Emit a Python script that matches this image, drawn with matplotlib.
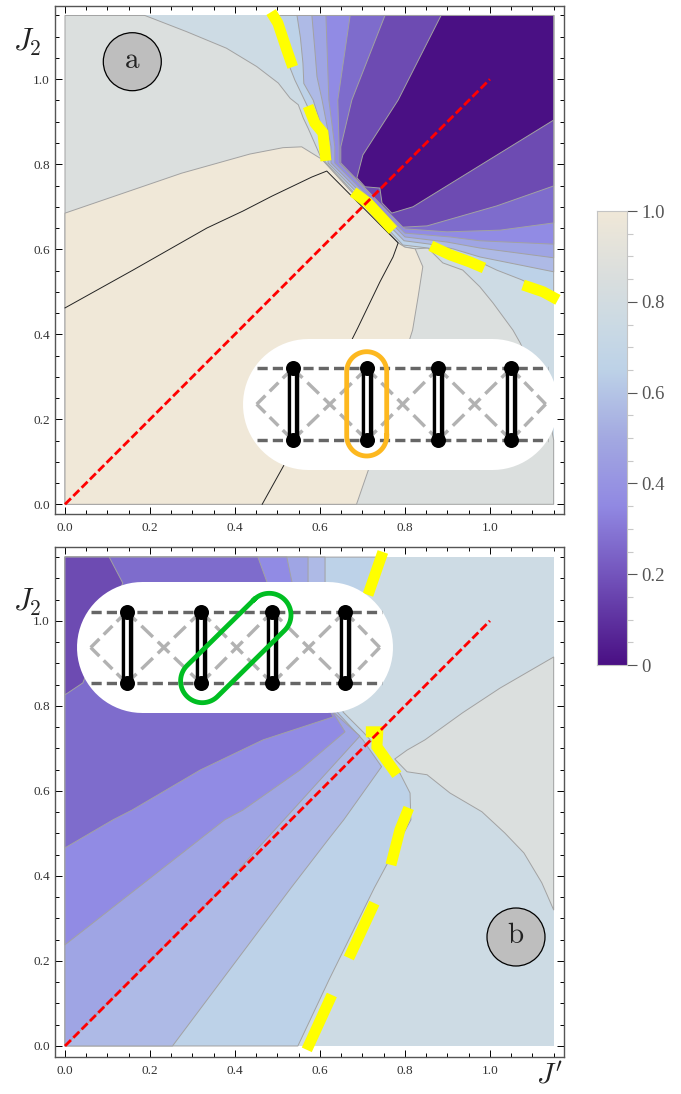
"""
Phase diagrams in the (J', J2) plane, two panels and a shared colour bar
"""

#Import libraries
import numpy as np
import matplotlib
matplotlib.use("Agg")
import matplotlib.pyplot as plt
from matplotlib.colors import LinearSegmentedColormap

plt.rcParams['font.family'] = ['Liberation Serif', 'DejaVu Serif']
plt.rcParams['mathtext.fontset'] = 'stix'

#=========================================================================================================
#Data: contour lines, as (J', J2)
#=========================================================================================================
#Colours of the bands, from the lowest value to the highest
band_dark = '#4A1084'
band_1 = '#6D4BB2'
band_2 = '#7E6CCC'
band_3 = '#918BE4'
band_4 = '#9FA5E4'
band_5 = '#AEBAE6'
band_6 = '#BDD2E8'
band_7 = '#CDDBE4'
band_8 = '#DBDFDE'
band_9 = '#F0E8D8'

#Panel a
a_level_08 = [(.188, 1.15), (.286, 1.112), (.380, 1.073), (.451, 1.030), (.502, .991), (.530, .955), (.549, .940),
              (.561, .908), (.572, .885), (.604, .812), (.784, .615), (.800, .605), (.824, .601), (.854, .603),
              (.889, .568), (.936, .551), (.976, .512), (1.007, .474), (1.054, .410), (1.071, .380), (1.118, .281),
              (1.141, .198), (1.15, .151), (1.15, 0), (0, 0), (0, 1.15)]
a_level_09 = [(0, .685), (.2745, .779), (.435, .824), (.513, .839), (.557, .841), (.604, .812), (.784, .615),
              (.800, .605), (.824, .601), (.842, .559), (.831, .488), (.818, .410), (.714, .081), (.686, 0), (0, 0)]
a_black_line = [(0, .462), (.160, .551), (.334, .650), (.419, .690), (.487, .725), (.581, .770), (.616, .784),
                (.784, .615), (.772, .582), (.741, .523), (.689, .415), (.675, .387), (.513, .088), (.464, 0)]
a_level_07 = [(.487, 1.15), (.513, 1.069), (.541, .998), (.567, .944), (.591, .892), (.607, .846), (.612, .806),
              (.795, .610), (.854, .603), (.911, .591), (.976, .570), (1.016, .551), (1.075, .528), (1.15, .490)]
a_level_06 = [(.546, 1.15), (.554, 1.098), (.560, 1.037), (.562, .990), (.584, .951), (.619, .841), (.619, .803),
              (.798, .620), (.859, .612), (.913, .601), (.976, .582), (1.15, .547)]
a_level_05 = [(.581, 1.15), (.588, 1.069), (.593, 1.006), (.605, .951), (.626, .841), (.626, .803), (.800, .629),
              (.899, .617), (.976, .603), (1.15, .580)]
a_level_04 = [(.614, 1.15), (.621, .951), (.635, .841), (.635, .803), (.800, .638), (.906, .629), (.976, .620),
              (1.15, .612)]
a_level_03 = [(.671, 1.15), (.642, .951), (.645, .841), (.645, .803), (.800, .648), (.899, .641), (1.024, .645),
              (1.15, .662)]
a_level_02 = [(.753, 1.15), (.675, .951), (.649, .841), (.649, .803), (.795, .652), (.852, .655), (1.016, .702),
              (1.15, .749)]
a_level_01 = [(.885, 1.15), (.784, .951), (.701, .822), (.687, .768), (.706, .747), (.741, .744), (.746, .709),
              (.769, .685), (.819, .700), (1.15, .904)]
a_yellow = [[(.485, 1.158), (.501, 1.132), (.522, 1.069), (.536, 1.029)],
            [(.572, .937), (.588, .897), (.607, .874), (.614, .808)],
            [(.678, .735), (.713, .709), (.772, .645)],
            [(.861, .608), (.906, .587), (.953, .570), (.986, .556)],
            [(1.078, .516), (1.125, .500), (1.160, .481)]]

#Panel b
b_level_08 = [(1.15, .915), (1.024, .842), (.936, .784), (.847, .720), (.805, .696), (.776, .675), (.805, .645),
              (.852, .638), (.906, .595), (.981, .551), (1.035, .501), (1.080, .454), (1.122, .384), (1.15, .320)]
b_level_07 = [(.548, 0), (.621, .155), (.728, .372), (.814, .532), (.812, .595), (.788, .642), (.725, .713),
              (.701, .739), (.654, .786), (.706, 1.066), (.736, 1.15), (0, 1.15), (0, 0)]
b_level_06 = [(.253, 0), (.532, .372), (.619, .485), (.656, .532), (.745, .657), (.701, .720), (.640, .786),
              (.612, 1.092), (.612, 1.15), (0, 1.15), (0, 0)]
b_level_05 = [(0, 0), (.35, .35), (.694, .729), (.631, .786), (.572, 1.092), (.572, 1.15), (0, 1.15)]
b_level_04 = [(0, .238), (.376, .532), (.419, .555), (.553, .649), (.659, .739), (.631, .784), (.534, 1.092),
              (.522, 1.15), (0, 1.15)]
b_level_03 = [(0, .466), (.113, .532), (.158, .555), (.318, .649), (.466, .720), (.631, .774), (.475, 1.092),
              (.454, 1.15), (0, 1.15)]
b_level_02 = [(0, .826), (.042, .854), (.136, 1.089), (.104, 1.15), (0, 1.15)]
b_yellow = [[(.748, 1.162), (.713, 1.061)],
            [(.708, .739), (.736, .739), (.734, .704), (.781, .638)],
            [(.809, .560), (.788, .508), (.767, .426)],
            [(.728, .336), (.668, .207)],
            [(.628, .120), (.569, -.009)]]

#Red line J2 = J'
diag_x = [0, 1]
diag_y = [0, 1]

#Ticks and colour bar
major_ticks = [0.0, 0.2, 0.4, 0.6, 0.8, 1.0]
minor_ticks = [0.05, 0.1, 0.15, 0.25, 0.3, 0.35, 0.45, 0.5, 0.55, 0.65, 0.7, 0.75, 0.85, 0.9, 0.95, 1.05, 1.1, 1.15]
bar_labels = ['0', '0.2', '0.4', '0.6', '0.8', '1.0']
bar_positions = [0, .2, .35, .5, .65, .75, .85, 1]
bar_colours = [band_dark, '#7455BD', '#9189E3', '#A3A9E1', '#BDD2E8', '#CBDAE4', '#D9DEDE', band_9]

#=========================================================================================================
#Helpers
#=========================================================================================================
W, H = 681, 1094
fig = plt.figure(figsize=(W / 100, H / 100), dpi=100)


def px(v):
    return v * 0.72


def axes_box(left, right, top, bottom):
    return fig.add_axes([left / W, 1 - bottom / H, (right - left) / W, (bottom - top) / H])


def fill_level(ax, pts, colour):
    xs, ys = zip(*pts)
    ax.fill(xs, ys, facecolor=colour, edgecolor='#A2A2A2', linewidth=0.7, joinstyle='round', zorder=2)


def style_axes(ax, ylim):
    ax.set_xlim(-0.0228, 1.175)
    ax.set_ylim(*ylim)
    ax.set_xticks(major_ticks)
    ax.set_yticks(major_ticks)
    ax.set_xticks(minor_ticks, minor=True)
    ax.set_yticks(minor_ticks, minor=True)
    ax.set_xticklabels(['%.1f' % t for t in major_ticks])
    ax.set_yticklabels(['%.1f' % t for t in major_ticks])
    ax.tick_params(which='both', direction='in', top=True, right=True, width=0.7, color='black',
                   labelsize=9.5, labelcolor='#333333')
    ax.tick_params(which='major', length=px(7))
    ax.tick_params(which='minor', length=px(4))
    ax.tick_params(axis='x', pad=6)
    ax.tick_params(axis='y', pad=4)
    for s in ax.spines.values():
        s.set_color('#555555')
        s.set_linewidth(1.0)


def draw_guides(ax, yellow):
    for seg in yellow:
        xs, ys = zip(*seg)
        ax.plot(xs, ys, color='#FFFF00', lw=px(11), solid_capstyle='butt', solid_joinstyle='miter',
                clip_on=False, zorder=5)
    ax.plot(diag_x, diag_y, color='#FF0000', lw=px(2.8), dashes=(3.0, 1.2), zorder=6)


def stadium(x0, y0, x1, y1, r):
    #Closed outline of a rounded bar around the segment (x0, y0)-(x1, y1), in pixels
    a = np.arctan2(y1 - y0, x1 - x0)
    t1 = np.linspace(a - np.pi / 2, a + np.pi / 2, 40)
    t0 = np.linspace(a + np.pi / 2, a + 3 * np.pi / 2, 40)
    xs = np.r_[x1 + r * np.cos(t1), x0 + r * np.cos(t0), x1 + r * np.cos(t1[0])]
    ys = np.r_[y1 + r * np.sin(t1), y0 + r * np.sin(t0), y1 + r * np.sin(t1[0])]
    return xs, ys


def draw_ladder(ov, dx, dy):
    rungs = np.array([126.7, 201, 272.3, 345]) + dx
    top, bot = 611.7 + dy, 683.3 + dy
    mid = (top + bot) / 2
    left, right = 90.7 + dx, 381.7 + dx
    #Dash phase set so that a dash sits across the middle of each X
    cross = dict(color='#B2B2B2', lw=px(3.4), linestyle=(0.7, (4.7, 2.0)), zorder=11)
    ends = dict(color='#B2B2B2', lw=px(3.4), linestyle=(0, (3.6, 1.8)), zorder=11)
    ov.plot([left, rungs[0]], [mid, top], **ends)
    ov.plot([left, rungs[0]], [mid, bot], **ends)
    ov.plot([right - 2, rungs[3]], [mid, top], **ends)
    ov.plot([right - 2, rungs[3]], [mid, bot], **ends)
    for i in range(3):
        ov.plot([rungs[i], rungs[i + 1]], [top, bot], **cross)
        ov.plot([rungs[i], rungs[i + 1]], [bot, top], **cross)
    dark = dict(color='#666666', lw=px(3.4), dashes=(3.0, 1.5), zorder=12)
    ov.plot([left, right], [top, top], **dark)
    ov.plot([left, right], [bot, bot], **dark)
    for x in rungs:
        ov.plot([x, x], [top, bot], color='black', lw=px(11.5), solid_capstyle='butt', zorder=13)
        ov.plot([x, x], [top + 6, bot - 6], color='white', lw=px(3.7), solid_capstyle='butt', zorder=14)
    ov.plot(rungs, [top] * 4, 'o', color='black', ms=px(15), mew=0, zorder=15)
    ov.plot(rungs, [bot] * 4, 'o', color='black', ms=px(15), mew=0, zorder=15)


#=========================================================================================================
#Panel a
#=========================================================================================================
ax_a = axes_box(55.3, 564.3, 5.7, 514)
ax_a.fill([0, 1.15, 1.15, 0], [0, 0, 1.15, 1.15], color=band_7, lw=0, zorder=1)
fill_level(ax_a, a_level_08, band_8)
fill_level(ax_a, a_level_09, band_9)
xs, ys = zip(*a_black_line)
ax_a.plot(xs, ys, color='#222222', lw=0.7, zorder=3)
for level, colour in [(a_level_07, band_6), (a_level_06, band_5), (a_level_05, band_4), (a_level_04, band_3),
                      (a_level_03, band_2), (a_level_02, band_1), (a_level_01, band_dark)]:
    fill_level(ax_a, level + [(1.15, 1.15)], colour)
draw_guides(ax_a, a_yellow)
style_axes(ax_a, (-0.0228, 1.173))

#=========================================================================================================
#Panel b
#=========================================================================================================
ax_b = axes_box(55.3, 564.3, 547.3, 1056.7)
ax_b.fill([0, 1.15, 1.15, 0], [0, 0, 1.15, 1.15], color=band_7, lw=0, zorder=1)
fill_level(ax_b, b_level_08, band_8)
for level, colour in [(b_level_07, band_6), (b_level_06, band_5), (b_level_05, band_4), (b_level_04, band_3),
                      (b_level_03, band_2), (b_level_02, band_1)]:
    fill_level(ax_b, level, colour)
draw_guides(ax_b, b_yellow)
style_axes(ax_b, (-0.0252, 1.173))

#=========================================================================================================
#Colour bar
#=========================================================================================================
ax_c = axes_box(596.7, 626.5, 211, 665)
cmap = LinearSegmentedColormap.from_list('bar', list(zip(bar_positions, bar_colours)))
ax_c.imshow(np.linspace(1, 0, 256).reshape(-1, 1), cmap=cmap, vmin=0, vmax=1, aspect='auto', extent=[0, 1, 0, 1])
ax_c.set_xticks([])
ax_c.yaxis.tick_right()
ax_c.set_yticks(major_ticks)
ax_c.set_yticklabels(bar_labels)
ax_c.set_yticks([t for t in minor_ticks if t < 1], minor=True)
ax_c.tick_params(which='major', length=px(9.5), width=0.8, color='#555555', labelsize=13.5, labelcolor='#555555', pad=4)
ax_c.tick_params(which='minor', length=px(6), width=0.8, color='#C8C8C8')
for s in ax_c.spines.values():
    s.set_color('#C4C4C4')
    s.set_linewidth(0.8)

#=========================================================================================================
#Overlay in pixels: insets, panel letters, axis names
#=========================================================================================================
ov = fig.add_axes([0, 0, 1, 1], zorder=10)
ov.set_xlim(0, W)
ov.set_ylim(H, 0)
ov.axis('off')
ov.patch.set_alpha(0)

ov.fill(*stadium(308.5, 404.5, 492.5, 404.5, 65.5), color='white', lw=0, zorder=10)
draw_ladder(ov, 166, -243.3)
ov.plot(*stadium(366.7, 371.7, 366.7, 436, 20), color='#FDB81F', lw=px(4.8), zorder=16)

ov.fill(*stadium(142.5, 647.5, 327.5, 647.5, 65.5), color='white', lw=0, zorder=10)
draw_ladder(ov, 0, 0)
ov.plot(*stadium(202.3, 681, 269.3, 615, 21.7), color='#00BE22', lw=px(4.8), zorder=16)

for cx, cy, letter in [(132.3, 61.7, 'a'), (516, 937, 'b')]:
    ov.add_patch(plt.Circle((cx, cy), 29, facecolor='#BEBEBE', edgecolor='black', lw=0.9, zorder=17))
    ov.text(cx, cy - 1, r'$\mathrm{%s}$' % letter, fontsize=21, ha='center', va='center', color='#222222',
            math_fontfamily='cm', zorder=18)

ov.text(27, 42, '$J_2$', fontsize=22, ha='center', va='center', color='#222222', math_fontfamily='cm')
ov.text(27, 602, '$J_2$', fontsize=22, ha='center', va='center', color='#222222', math_fontfamily='cm')
ov.text(549, 1076, "$J'$", fontsize=21, ha='center', va='center', color='#222222', math_fontfamily='cm')

plt.savefig('out.png', dpi=100)
